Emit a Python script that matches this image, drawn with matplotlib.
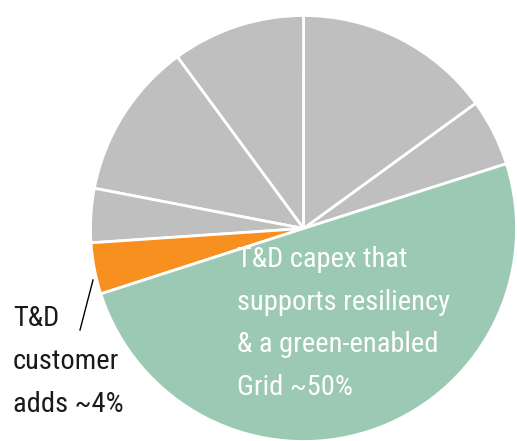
import matplotlib
matplotlib.use("Agg")
import matplotlib.pyplot as plt

# Data (shares in %, counter-clockwise from start angle)
segments = ["Other 1", "Other 2", "Other 3", "Other 4", "Other 5",
            "T&D customer adds", "T&D capex resiliency & green grid"]
shares = [5.1, 15.0, 10.1, 11.9, 4.1, 3.9, 50.0]
colors = ["#BFBFBF", "#BFBFBF", "#BFBFBF", "#BFBFBF", "#BFBFBF",
          "#F7901E", "#9BC9B3"]
green_label = "T&D capex that\nsupports resiliency\n& a green-enabled\nGrid ~50%"
orange_label = "T&D\ncustomer\nadds ~4%"

W, H = 517, 441
fig = plt.figure(figsize=(W / 100, H / 100), dpi=100)
ax = fig.add_axes([0, 0, 1, 1])

cx, cy, r = 303.5, H - 228.5, 213
ax.pie(shares, colors=colors, startangle=17.7, counterclock=True,
       center=(cx, cy), radius=r, frame=True,
       wedgeprops=dict(edgecolor="white", linewidth=2))
ax.set_xlim(0, W)
ax.set_ylim(0, H)
ax.set_aspect("equal")
ax.axis("off")

font = ["Roboto Condensed", "DejaVu Sans"]
ax.text(237, H - 395, green_label, color="white", fontsize=20.5,
        family=font, ha="left", va="baseline", linespacing=1.75)
ax.text(13, H - 412, orange_label, color="#1a1a1a", fontsize=20.5,
        family=font, ha="left", va="baseline", linespacing=1.75)
ax.plot([93, 80], [H - 280, H - 330], color="black", linewidth=1)

fig.savefig("out.png", dpi=100)
